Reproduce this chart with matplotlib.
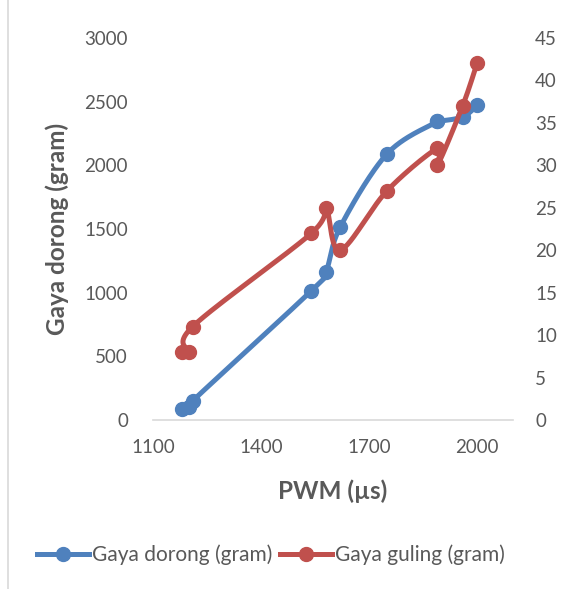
import numpy as np
import matplotlib
matplotlib.use("Agg")
from matplotlib import pyplot as plt
from matplotlib.lines import Line2D

plt.rcParams['font.family'] = ['Lato', 'DejaVu Sans']

pwm = [1180, 1200, 1210, 1540, 1580, 1620, 1750, 1890, 1890, 1960, 2000]
gaya_dorong = [90, 100, 150, 1015, 1160, 1515, 2090, 2345, 2345, 2380, 2470]
gaya_guling = [8, 8, 11, 22, 25, 20, 27, 32, 30, 37, 42]

BLUE = "#4F81BD"
RED = "#C0504D"
GREY = "#595959"


def _smooth(xs, ys, n=30):
    # excel-ish smoothed line: catmull-rom as cubic bezier
    xs = np.asarray(xs, float)
    ys = np.asarray(ys, float)
    px = np.concatenate([[xs[0]], xs, [xs[-1]]])
    py = np.concatenate([[ys[0]], ys, [ys[-1]]])
    out_x, out_y = [], []
    t = np.linspace(0, 1, n)
    for i in range(1, len(px) - 2):
        p0 = np.array([px[i - 1], py[i - 1]])
        p1 = np.array([px[i], py[i]])
        p2 = np.array([px[i + 1], py[i + 1]])
        p3 = np.array([px[i + 2], py[i + 2]])
        c1 = p1 + (p2 - p0) / 6
        c2 = p2 - (p3 - p1) / 6
        b = ((1 - t) ** 3)[:, None] * p1 + (3 * (1 - t) ** 2 * t)[:, None] * c1 \
            + (3 * (1 - t) * t ** 2)[:, None] * c2 + (t ** 3)[:, None] * p2
        out_x.extend(b[:, 0])
        out_y.extend(b[:, 1])
    return out_x, out_y


fig = plt.figure(figsize=(5.68, 5.89), dpi=100)
ax = fig.add_axes([153 / 568, 1 - 420 / 589, 360 / 568, 382 / 589])
ax2 = ax.twinx()

lw = 3.6
ms = 10

sx, sy = _smooth(pwm, gaya_dorong)
ax.plot(sx, sy, color=BLUE, lw=lw, solid_capstyle='round', zorder=3)
ax.plot(pwm, gaya_dorong, 'o', color=BLUE, ms=ms, zorder=4)

sx, sy = _smooth(pwm, gaya_guling)
ax2.plot(sx, sy, color=RED, lw=lw, solid_capstyle='round', zorder=3)
ax2.plot(pwm, gaya_guling, 'o', color=RED, ms=ms, zorder=4)

ax.set_xlim(1100, 2100)
ax.set_ylim(0, 3000)
ax2.set_ylim(0, 45)
ax.set_xticks([1100, 1400, 1700, 2000])
ax.set_yticks(np.arange(0, 3001, 500))
ax2.set_yticks(np.arange(0, 46, 5))

for a in (ax, ax2):
    for s in a.spines.values():
        s.set_visible(False)
    a.tick_params(length=0, labelsize=13.5, colors=GREY)
ax.spines['bottom'].set_visible(True)
ax.spines['bottom'].set_color("#D9D9D9")
ax.spines['bottom'].set_linewidth(1.2)
ax.tick_params(axis='y', pad=18)
ax.tick_params(axis='x', pad=14)
ax2.tick_params(axis='y', pad=16)

ax.set_ylabel("Gaya dorong (gram)", fontsize=17.5, fontweight='bold', color=GREY)
ax.yaxis.set_label_coords(-0.233, 0.5)
ax.set_xlabel("PWM (µs)", fontsize=17.5, fontweight='bold', color=GREY)
ax.xaxis.set_label_coords(0.5, -0.155)

handles = [
    Line2D([], [], color=BLUE, lw=lw, marker='o', ms=ms),
    Line2D([], [], color=RED, lw=lw, marker='o', ms=ms),
]
fig.legend(handles, ["Gaya dorong (gram)", "Gaya guling (gram)"], loc='center',
           bbox_to_anchor=(271 / 568, 1 - 555 / 589), ncol=2, frameon=False,
           fontsize=15, handlelength=2.5, handletextpad=0.15, columnspacing=0.35,
           labelcolor=GREY)

fig.add_artist(Line2D([7.5 / 568, 7.5 / 568], [0, 1], color="#D9D9D9", lw=1.2))

fig.savefig("out.png", dpi=100)
